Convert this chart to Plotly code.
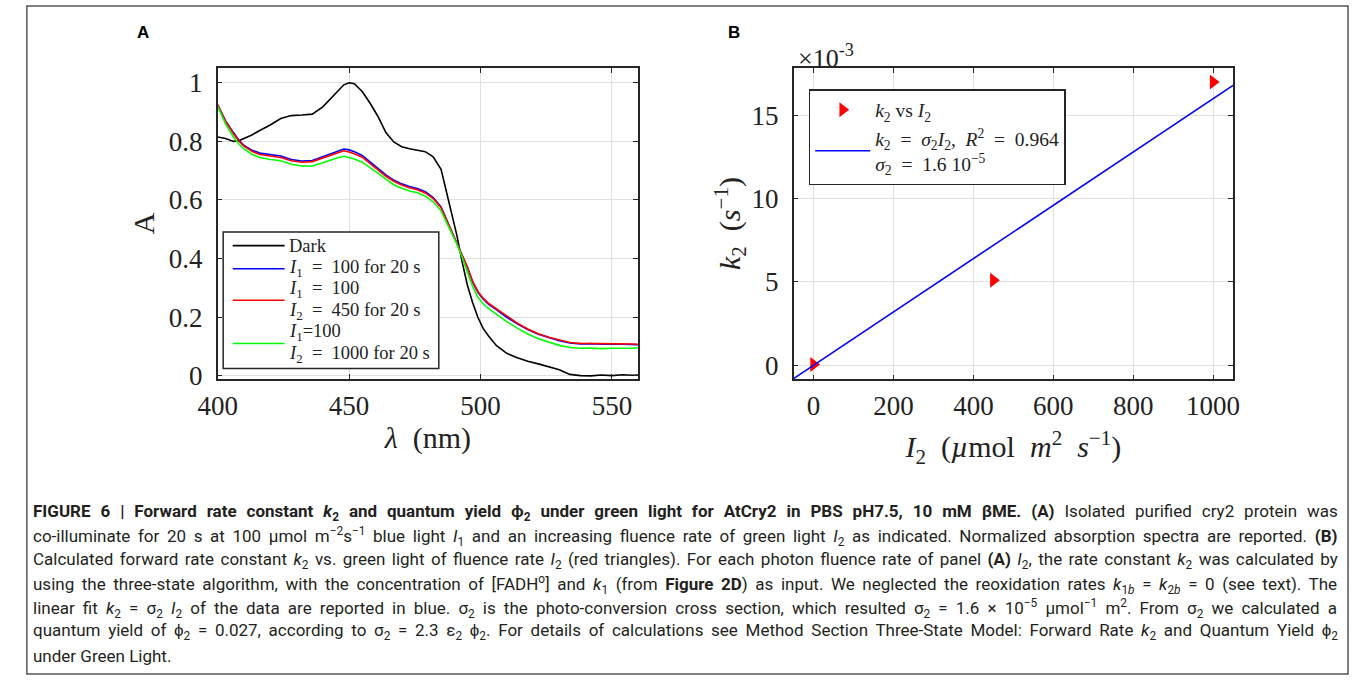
import plotly.graph_objects as go

# ---------------- Panel A data (normalized absorption spectra) ----------------
wavelength = [400, 403, 406, 408, 410, 413, 416, 420, 424, 428, 432, 436, 440, 443, 446, 448,
              450, 452, 455, 458, 461, 464, 467, 470, 473, 476, 479, 482, 485, 487, 489, 491,
              493, 495, 497, 499, 501, 503, 506, 510, 514, 518, 522, 526, 530, 534, 538, 542,
              546, 550, 554, 558, 560]
dark = [0.815, 0.810, 0.800, 0.802, 0.810, 0.822, 0.837, 0.856, 0.878, 0.888, 0.890, 0.893,
        0.918, 0.945, 0.975, 0.993, 1.000, 0.997, 0.970, 0.930, 0.885, 0.830, 0.798, 0.782,
        0.775, 0.771, 0.765, 0.747, 0.705, 0.630, 0.560, 0.480, 0.390, 0.310, 0.250, 0.200,
        0.162, 0.137, 0.104, 0.077, 0.062, 0.050, 0.041, 0.032, 0.021, 0.005, 0.001, 0.000,
        0.003, 0.001, 0.004, 0.002, 0.003]
blue_i1 = [0.925, 0.870, 0.830, 0.805, 0.786, 0.770, 0.760, 0.755, 0.750, 0.738, 0.733, 0.735,
           0.748, 0.760, 0.770, 0.774, 0.771, 0.765, 0.752, 0.730, 0.707, 0.686, 0.668, 0.655,
           0.646, 0.639, 0.628, 0.608, 0.576, 0.535, 0.495, 0.458, 0.415, 0.370, 0.320, 0.285,
           0.262, 0.245, 0.226, 0.200, 0.178, 0.158, 0.142, 0.130, 0.120, 0.112, 0.109, 0.110,
           0.108, 0.109, 0.108, 0.107, 0.106]
red_i2_450 = [0.925, 0.868, 0.826, 0.802, 0.784, 0.766, 0.755, 0.749, 0.745, 0.734, 0.729, 0.731,
              0.743, 0.754, 0.762, 0.768, 0.764, 0.758, 0.746, 0.725, 0.702, 0.681, 0.664, 0.651,
              0.642, 0.635, 0.624, 0.605, 0.574, 0.534, 0.495, 0.458, 0.416, 0.372, 0.323, 0.288,
              0.265, 0.248, 0.229, 0.203, 0.180, 0.160, 0.144, 0.132, 0.122, 0.114, 0.111, 0.111,
              0.110, 0.111, 0.110, 0.109, 0.108]
green_i2_1000 = [0.920, 0.860, 0.815, 0.792, 0.774, 0.756, 0.745, 0.738, 0.734, 0.722, 0.716, 0.716,
                 0.727, 0.737, 0.745, 0.749, 0.745, 0.740, 0.729, 0.712, 0.692, 0.671, 0.652, 0.640,
                 0.631, 0.625, 0.613, 0.594, 0.563, 0.525, 0.488, 0.450, 0.405, 0.355, 0.305, 0.268,
                 0.246, 0.230, 0.211, 0.185, 0.163, 0.143, 0.127, 0.115, 0.104, 0.097, 0.094, 0.095,
                 0.093, 0.094, 0.093, 0.094, 0.096]

# ---------------- Panel B data ----------------
i2_values = [0, 450, 1000]
k2_values = [0.00005, 0.0051, 0.0170]
sigma2 = 1.6e-5
fit_i2 = [-50, 1050]
fit_k2 = [sigma2 * v for v in fit_i2]

a_xticks = [400, 450, 500, 550]
a_yticks = [0, 0.2, 0.4, 0.6, 0.8, 1]
b_xticks = [0, 200, 400, 600, 800, 1000]
b_yticks = [0, 0.005, 0.010, 0.015]
b_yticktext = ["0", "5", "10", "15"]

E = "\u2002"  # en space (math-like spacing)
legend_a_labels = ["Dark",
                   f"<i>I</i><sub>1</sub>{E}={E}100 for 20 s",
                   f"<i>I</i><sub>1</sub>{E}={E}100",
                   f"<i>I</i><sub>2</sub>{E}={E}450 for 20 s",
                   "<i>I</i><sub>1</sub>=100",
                   f"<i>I</i><sub>2</sub>{E}={E}1000 for 20 s"]

caption_lines = [
    "<b>FIGURE 6 | Forward rate constant <i>k</i><sub>2</sub> and quantum yield ϕ<sub>2</sub> under green light for AtCry2 in PBS pH7.5, 10 mM βME. (A)</b> Isolated purified cry2 protein was",
    "co-illuminate for 20 s at 100 µmol m<sup>−2</sup>s<sup>−1</sup> blue light <i>I</i><sub>1</sub> and an increasing fluence rate of green light <i>I</i><sub>2</sub> as indicated. Normalized absorption spectra are reported. <b>(B)</b>",
    "Calculated forward rate constant <i>k</i><sub>2</sub> vs. green light of fluence rate <i>I</i><sub>2</sub> (red triangles). For each photon fluence rate of panel <b>(A)</b> <i>I</i><sub>2</sub>, the rate constant <i>k</i><sub>2</sub> was calculated by",
    "using the three-state algorithm, with the concentration of [FADH<sup>o</sup>] and <i>k</i><sub>1</sub> (from <b>Figure 2D</b>) as input. We neglected the reoxidation rates <i>k</i><sub>1<i>b</i></sub> = <i>k</i><sub>2<i>b</i></sub> = 0 (see text). The",
    "linear fit <i>k</i><sub>2</sub> = σ<sub>2</sub> <i>I</i><sub>2</sub> of the data are reported in blue. σ<sub>2</sub> is the photo-conversion cross section, which resulted σ<sub>2</sub> = 1.6 × 10<sup>−5</sup> µmol<sup>−1</sup> m<sup>2</sup>. From σ<sub>2</sub> we calculated a",
    "quantum yield of ϕ<sub>2</sub> = 0.027, according to σ<sub>2</sub> = 2.3 ε<sub>2</sub> ϕ<sub>2</sub>. For details of calculations see Method Section Three-State Model: Forward Rate <i>k</i><sub>2</sub> and Quantum Yield ϕ<sub>2</sub>",
    "under Green Light.",
]
# extra space between words so that the paragraph lines are justified like the reference
caption_word_spacing = [5.7, 3.4, 2.2, 3.35, 3.9, 3.45, 0]

W, H = 1357, 691
SERIF = "Liberation Serif, Times New Roman, serif"
SANS = "Liberation Sans, Arial, sans-serif"
CAP = "Roboto, Liberation Sans, sans-serif"

def px(x):
    return x / W

def py(y):
    return 1 - y / H

fig = go.Figure()

series_a = [(dark, "#000000", legend_a_labels[0]),
            (blue_i1, "#0000ff", legend_a_labels[1]),
            (red_i2_450, "#ff0000", legend_a_labels[2] + "<br>" + legend_a_labels[3]),
            (green_i2_1000, "#00ff00", legend_a_labels[4] + "<br>" + legend_a_labels[5])]
for vals, col, name in series_a:
    fig.add_trace(go.Scatter(x=wavelength, y=vals, mode="lines", line=dict(color=col, width=1.6),
                             name=name, xaxis="x", yaxis="y", showlegend=False))

# Panel B traces
fig.add_trace(go.Scatter(x=i2_values, y=k2_values, mode="markers",
                         marker=dict(symbol="triangle-right", color="#ff0000", size=13),
                         name=f"<i>k</i><sub>2</sub> vs <i>I</i><sub>2</sub>",
                         xaxis="x2", yaxis="y2", legend="legend2"))
fig.add_trace(go.Scatter(x=fit_i2, y=fit_k2, mode="lines", line=dict(color="#0000ff", width=1.6),
                         name=(f"<i>k</i><sub>2</sub>{E}={E}<i>σ</i><sub>2</sub><i>I</i><sub>2</sub>,{E}"
                               f"<i>R</i><sup>2</sup>{E}={E}0.964<br><i>σ</i><sub>2</sub>{E}={E}1.6 10<sup>−5</sup>"),
                         xaxis="x2", yaxis="y2", legend="legend2"))

axis_common = dict(showline=True, linecolor="#262626", linewidth=1.5, mirror="ticks",
                   ticks="inside", ticklen=5, tickwidth=1.2, tickcolor="#262626",
                   showgrid=True, gridcolor="#e0e0e0", gridwidth=1, zeroline=False,
                   tickfont=dict(family=SERIF, size=27, color="#222"))
title_font = dict(family=SERIF, size=30, color="#222")

fig.update_layout(
    width=W, height=H,
    margin=dict(l=0, r=0, t=0, b=0),
    paper_bgcolor="white", plot_bgcolor="white",
    showlegend=True,
    xaxis=dict(domain=[px(201.7), px(630.7)], range=[400, 560], tickvals=a_xticks,
               anchor="y", ticklabelstandoff=2,
               title=dict(text=f"<i>λ</i>{E}(nm)", font=title_font, standoff=6),
               **axis_common),
    yaxis=dict(domain=[py(385.5), py(69.3)], range=[-0.01, 1.05], tickvals=a_yticks,
               anchor="x", ticklabelstandoff=8,
               title=dict(text="A", font=title_font, standoff=5),
               **axis_common),
    xaxis2=dict(domain=[px(789.3), px(1237.7)], range=[-50, 1050], tickvals=b_xticks,
                anchor="y2", ticklabelstandoff=2,
                title=dict(text=f"<i>I</i><sub>2</sub>{E}(<i>µ</i>mol{E}<i>m</i><sup>2</sup>{E}<i>s</i><sup>−1</sup>)",
                           font=title_font, standoff=16),
                **axis_common),
    yaxis2=dict(domain=[py(386), py(69)], range=[-0.00084, 0.01785], tickvals=b_yticks,
                ticktext=b_yticktext, anchor="x2", ticklabelstandoff=8,
                title=dict(text=f"<i>k</i><sub>2</sub>{E}(<i>s</i><sup>−1</sup>)", font=title_font, standoff=0),
                **axis_common),
    legend2=dict(x=px(804.7), y=py(90.7), xanchor="left", yanchor="top",
                 bgcolor="white", bordercolor="#262626", borderwidth=1.5,
                 font=dict(family=SERIF, size=19.5, color="#222"),
                 itemwidth=55, tracegroupgap=0, valign="middle"),
)

# ---- legend box for panel A (multi-line entries, MATLAB style) ----
shapes = [
    dict(type="rect", xref="paper", yref="paper", x0=px(207.3), x1=px(427.3), y0=py(375), y1=py(236),
         line=dict(color="#262626", width=1.5), fillcolor="white", layer="above"),
]
legend_rows_y = [250, 273.5, 305.5, 349.5]
for (vals, col, name), yy in zip(series_a, legend_rows_y):
    shapes.append(dict(type="line", xref="paper", yref="paper", x0=px(217), x1=px(270),
                       y0=py(yy), y1=py(yy), line=dict(color=col, width=1.6), layer="above"))
shapes.append(dict(type="rect", xref="paper", yref="paper", x0=px(7), y0=py(686), x1=px(1355), y1=py(6),
                   line=dict(color="#555555", width=1.5), fillcolor="rgba(0,0,0,0)", layer="below"))

annotations = [
    dict(text="<b>A</b>", x=px(125), y=py(33), xref="paper", yref="paper", showarrow=False,
         font=dict(family=SANS, size=17, color="black"), xanchor="center", yanchor="middle"),
    dict(text="<b>B</b>", x=px(729), y=py(33), xref="paper", yref="paper", showarrow=False,
         font=dict(family=SANS, size=17, color="black"), xanchor="center", yanchor="middle"),
    dict(text="×10<sup>-3</sup>", x=px(792), y=py(57), xref="paper", yref="paper", showarrow=False,
         font=dict(family=SERIF, size=26, color="#222"), xanchor="left", yanchor="middle"),
]
legend_text_y = [250, 273.5, 294.5, 316.5, 338.5, 360.5]
for txt, yy in zip(legend_a_labels, legend_text_y):
    annotations.append(dict(text=txt, x=px(272), y=py(yy), xref="paper", yref="paper", showarrow=False,
                            xanchor="left", yanchor="middle", align="left",
                            font=dict(family=SERIF, size=18.5, color="#222")))

cap_y0, cap_dy = 522, 24.2
for i, (line, ws) in enumerate(zip(caption_lines, caption_word_spacing)):
    styled = f'<span style="word-spacing:{ws}px">{line}</span>'
    annotations.append(dict(text=styled, x=px(11), y=py(cap_y0 + i * cap_dy), xref="paper", yref="paper",
                            showarrow=False, xanchor="left", yanchor="middle", align="left",
                            font=dict(family=CAP, size=17, color="#231f20")))
fig.update_layout(annotations=annotations, shapes=shapes)

fig.write_html("out.html")
